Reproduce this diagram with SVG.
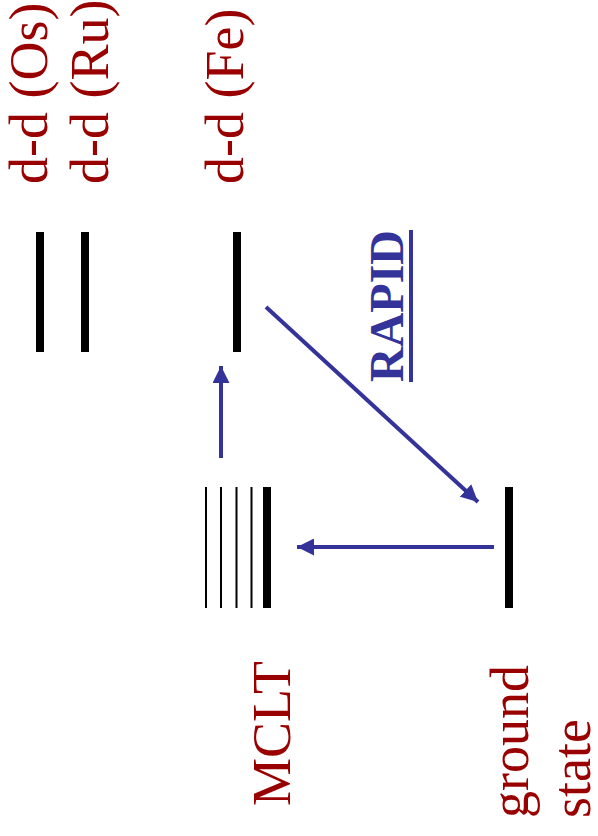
<svg xmlns="http://www.w3.org/2000/svg" width="598" height="836" viewBox="0 0 598 836">
  <style>
    .lbl { font-family: "Liberation Serif", "Times New Roman", serif; font-size: 54px; fill: #990000; }
    .fast { font-family: "Liberation Serif", "Times New Roman", serif; font-size: 48px; font-weight: bold; fill: #333399; }
    .lvl { fill: #000000; }
    .thin { stroke: #000000; stroke-width: 2; }
    .arr { stroke: #333399; stroke-width: 4; fill: none; marker-end: url(#head); }
  </style>
  <defs>
    <marker id="head" markerUnits="userSpaceOnUse" markerWidth="19" markerHeight="17" refX="17" refY="8.5" orient="auto">
      <path d="M0,0 L17,8.5 L0,17 Z" fill="#333399"/>
    </marker>
  </defs>

  <!-- d-d levels -->
  <g id="dd-os">
    <rect class="lvl" x="36" y="232" width="8" height="120"/>
    <text class="lbl" transform="translate(47,184) rotate(-90)">d-d (Os)</text>
  </g>
  <g id="dd-ru">
    <rect class="lvl" x="81" y="232" width="8" height="120"/>
    <text class="lbl" transform="translate(108,184) rotate(-90)">d-d (Ru)</text>
  </g>
  <g id="dd-fe">
    <rect class="lvl" x="233" y="232" width="8" height="120"/>
    <text class="lbl" transform="translate(243,184) rotate(-90)">d-d (Fe)</text>
  </g>

  <!-- MLCT manifold -->
  <g id="mclt">
    <line class="thin" x1="206" y1="487" x2="206" y2="608"/>
    <line class="thin" x1="221" y1="487" x2="221" y2="608"/>
    <line class="thin" x1="236.5" y1="487" x2="236.5" y2="608"/>
    <line class="thin" x1="251.5" y1="487" x2="251.5" y2="608"/>
    <rect class="lvl" x="263" y="487" width="8" height="121"/>
    <text class="lbl" transform="translate(290,806) rotate(-90)">MCLT</text>
  </g>

  <!-- ground state -->
  <g id="ground">
    <rect class="lvl" x="505" y="487" width="8" height="121"/>
    <text class="lbl" transform="translate(528,818) rotate(-90)">ground</text>
    <text class="lbl" transform="translate(590,818) rotate(-90)">state</text>
  </g>

  <!-- rate label -->
  <g id="rapid">
    <text class="fast" transform="translate(403,382) rotate(-90)">RAPID</text>
    <rect x="409" y="230" width="4" height="152" fill="#333399"/>
  </g>

  <g id="connectors">
    <line class="arr" x1="221" y1="458" x2="221" y2="366"/>
    <line class="arr" x1="266" y1="307" x2="478" y2="502"/>
    <line class="arr" x1="494" y1="547" x2="297" y2="547"/>
  </g>
</svg>
